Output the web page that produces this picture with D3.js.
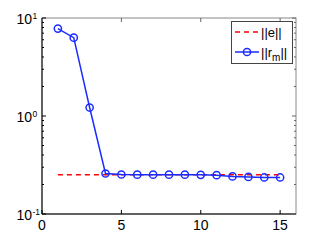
<!DOCTYPE html>
<html>
<head>
<meta charset="utf-8">
<script src="https://cdn.jsdelivr.net/npm/d3@7"></script>
<style>
  body { margin: 0; background: #fff; }
  svg { font-family: "Liberation Sans", Arial, sans-serif; }
</style>
</head>
<body>
<div id="chart"></div>
<script>
// iteration index
var iters = [1, 2, 3, 4, 5, 6, 7, 8, 9, 10, 11, 12, 13, 14, 15];
// ||r_m|| per iteration
var resid = [7.8, 6.3, 1.22, 0.259, 0.253, 0.252, 0.252, 0.252, 0.252, 0.251, 0.249, 0.242, 0.239, 0.236, 0.236];
// ||e|| (constant)
var errNorm = 0.252;
var errX = [1, 15];
var xTicks = [0, 5, 10, 15];
var yTicks = [0.1, 1, 10];
var yTickExp = ['-1', '0', '1'];

var width = 327, height = 242;
var margin = { left: 42, right: 31, top: 18, bottom: 28 };

var svg = d3.select('#chart').append('svg')
  .attr('width', width)
  .attr('height', height);

var x = d3.scaleLinear().domain([0, 16]).range([margin.left, width - margin.right]);
var y = d3.scaleLog().domain([0.1, 10]).range([height - margin.bottom, margin.top]);

var x0 = x.range()[0], x1 = x.range()[1], y0 = y.range()[0], y1 = y.range()[1];

// frame
svg.append('rect')
  .attr('x', x0).attr('y', y1)
  .attr('width', x1 - x0).attr('height', y0 - y1)
  .attr('fill', 'none').attr('stroke', '#888').attr('stroke-width', 1);
svg.append('line').attr('x1', x0).attr('x2', x0).attr('y1', y1).attr('y2', y0)
  .attr('stroke', '#000');
svg.append('line').attr('x1', x0).attr('x2', x1).attr('y1', y0).attr('y2', y0)
  .attr('stroke', '#000');

// x ticks (inside, bottom + top)
var tk = svg.append('g').attr('stroke', '#000').attr('stroke-width', 1);
xTicks.forEach(function(t) {
  tk.append('line').attr('x1', x(t)).attr('x2', x(t)).attr('y1', y0).attr('y2', y0 - 4);
  tk.append('line').attr('x1', x(t)).attr('x2', x(t)).attr('y1', y1).attr('y2', y1 + 4).attr('stroke', '#666');
});

// y ticks: majors + minors on left and right
var minors = [];
[0.1, 1].forEach(function(d) {
  for (var k = 2; k <= 9; k++) minors.push(d * k);
});
minors.forEach(function(t) {
  tk.append('line').attr('x1', x0).attr('x2', x0 + 2).attr('y1', y(t)).attr('y2', y(t));
  tk.append('line').attr('x1', x1).attr('x2', x1 - 2).attr('y1', y(t)).attr('y2', y(t)).attr('stroke', '#666');
});
yTicks.forEach(function(t) {
  tk.append('line').attr('x1', x0).attr('x2', x0 + 4).attr('y1', y(t)).attr('y2', y(t));
  tk.append('line').attr('x1', x1).attr('x2', x1 - 4).attr('y1', y(t)).attr('y2', y(t)).attr('stroke', '#666');
});

// tick labels
svg.selectAll('.xl').data(xTicks).enter().append('text')
  .attr('x', function(d) { return x(d); })
  .attr('y', y0 + 16)
  .attr('text-anchor', 'middle')
  .attr('font-size', 14)
  .text(function(d) { return d; });

svg.selectAll('.yl').data(yTicks).enter().append('text')
  .attr('x', 32)
  .attr('y', function(d) { return y(d) + 5.5; })
  .attr('text-anchor', 'end')
  .attr('font-size', 14)
  .text('10');
svg.selectAll('.ye').data(yTicks).enter().append('text')
  .attr('x', 32.5)
  .attr('y', function(d) { return y(d) + 0.5; })
  .attr('font-size', 8.5)
  .text(function(d, i) { return yTickExp[i]; });

// ||e|| dashed line
var line = d3.line().x(function(d) { return x(d[0]); }).y(function(d) { return y(d[1]); });
svg.append('path')
  .datum(errX.map(function(v) { return [v, errNorm]; }))
  .attr('d', line)
  .attr('fill', 'none').attr('stroke', '#ff0000')
  .attr('stroke-width', 1.5).attr('stroke-dasharray', '5,4');

// ||r_m|| line with circles
var pts = iters.map(function(v, i) { return [v, resid[i]]; });
svg.append('path').datum(pts).attr('d', line)
  .attr('fill', 'none').attr('stroke', '#1a2cff').attr('stroke-width', 1.5);
svg.selectAll('.pt').data(pts).enter().append('circle')
  .attr('cx', function(d) { return x(d[0]); })
  .attr('cy', function(d) { return y(d[1]); })
  .attr('r', 3.6)
  .attr('fill', 'none').attr('stroke', '#1a2cff').attr('stroke-width', 1.5);

// legend
var lg = svg.append('g');
lg.append('rect').attr('x', 231.5).attr('y', 21.5).attr('width', 61).attr('height', 42)
  .attr('fill', '#fff').attr('stroke', '#444').attr('stroke-width', 1);
lg.append('line').attr('x1', 235).attr('x2', 259).attr('y1', 32).attr('y2', 32)
  .attr('stroke', '#ff0000').attr('stroke-width', 1.5).attr('stroke-dasharray', '5,4');
lg.append('line').attr('x1', 235).attr('x2', 259).attr('y1', 52).attr('y2', 52)
  .attr('stroke', '#1a2cff').attr('stroke-width', 1.5);
lg.append('circle').attr('cx', 247).attr('cy', 52).attr('r', 3.6)
  .attr('fill', 'none').attr('stroke', '#1a2cff').attr('stroke-width', 1.5);
lg.append('text').attr('x', 261).attr('y', 37).attr('font-size', 13).text('||e||');
var t2 = lg.append('text').attr('x', 261).attr('y', 57).attr('font-size', 13);
t2.append('tspan').text('||r');
t2.append('tspan').attr('font-size', 10).attr('dy', 4).text('m');
t2.append('tspan').attr('dy', -4).text('||');
</script>
</body>
</html>
